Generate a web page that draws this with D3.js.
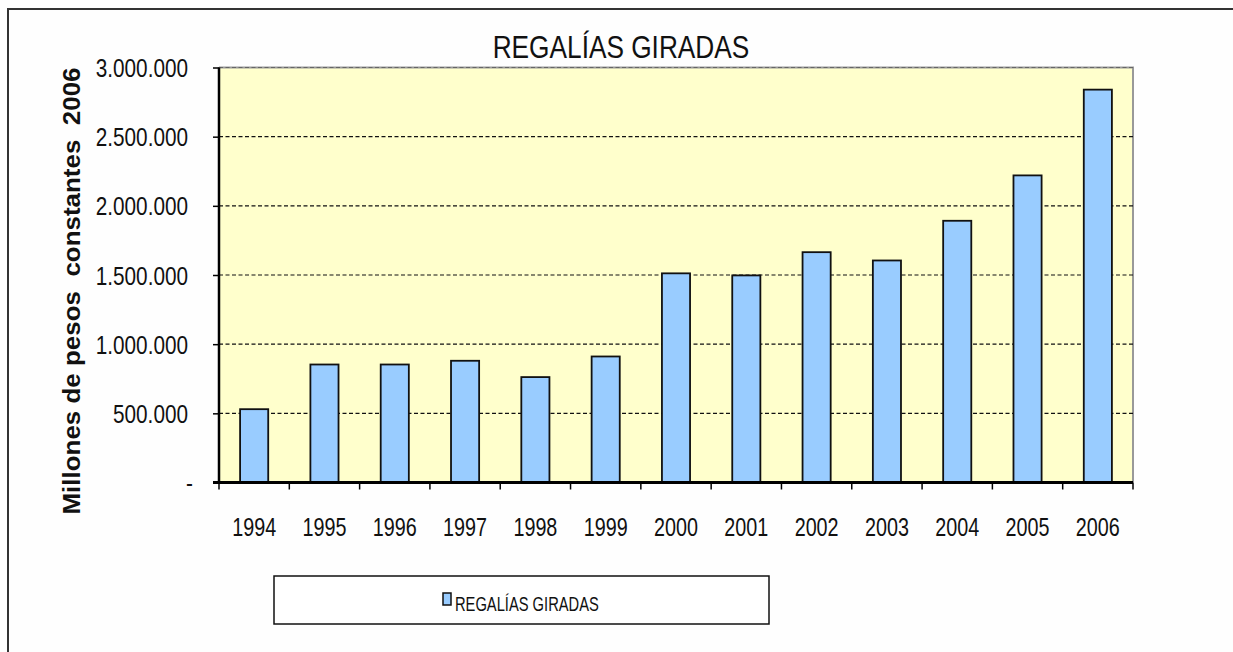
<!DOCTYPE html>
<meta charset="utf-8">
<style>
body { margin: 0; background: #fefefe; }
svg { display: block; }
.axis text { font-family: "Liberation Sans", Arial, sans-serif; font-size: 25px; fill: #111; }
.axis path { display: none; }
.axis line { stroke: #000; stroke-width: 1.5; }
.grid line { stroke: #111; stroke-width: 1.2; stroke-dasharray: 4,2.5; }
</style>
<svg width="1233" height="652"></svg>
<script src="https://d3js.org/d3.v7.min.js"></script>
<script>

// data
var years = ["1994", "1995", "1996", "1997", "1998", "1999", "2000",
             "2001", "2002", "2003", "2004", "2005", "2006"];
var regalias = [530000, 853000, 853000, 880000, 762000, 911000, 1512000,
                1497000, 1665000, 1605000, 1892000, 2220000, 2840000];
var yTicks = [0, 500000, 1000000, 1500000, 2000000, 2500000, 3000000];
var title = "REGALÍAS GIRADAS";
var seriesName = "REGALÍAS GIRADAS";
var yTitle = "Millones de pesos  constantes  2006";

var svg = d3.select("svg"),
  margin = {top: 67.5, right: 100, bottom: 169.5, left: 219},
  width = svg.attr("width") - margin.left - margin.right,
  height = svg.attr("height") - margin.top - margin.bottom;

var sans = '"Liberation Sans", Arial, sans-serif';

// the source uses a narrow face; squeeze the text horizontally
function squeeze(sel, k) {
  sel.each(function() {
    var w = this.getComputedTextLength();
    d3.select(this)
      .attr("textLength", w * k)
      .attr("lengthAdjust", "spacingAndGlyphs");
  });
}

// outer frame, cut off at right and bottom like the source
svg.append("rect")
  .attr("x", 8).attr("y", 9)
  .attr("width", 1300).attr("height", 700)
  .attr("fill", "none")
  .attr("stroke", "#333")
  .attr("stroke-width", 2);

var locale = d3.formatLocale({decimal: ",", thousands: ".", grouping: [3], currency: ["$", ""]});
var fmt = locale.format(",d");

var x = d3.scaleBand().domain(years).range([0, width])
  .paddingInner(0.6).paddingOuter(0.3);
var y = d3.scaleLinear().domain([0, 3000000]).range([height, 0]);

var g = svg.append("g")
  .attr("transform", "translate(" + margin.left + "," + margin.top + ")");

// plot background
g.append("rect")
  .attr("width", width).attr("height", height)
  .attr("fill", "#ffffcc");

// right and top border of plot area
g.append("path")
  .attr("d", "M0,0H" + width + "V" + height)
  .attr("fill", "none")
  .attr("stroke", "#999")
  .attr("stroke-width", 2);

// dashed grid
g.append("g")
  .attr("class", "grid")
  .selectAll("line")
  .data(yTicks.filter(function(d) { return d > 0; }))
  .enter().append("line")
    .attr("x1", 0).attr("x2", width)
    .attr("y1", function(d) { return y(d); })
    .attr("y2", function(d) { return y(d); })
    .style("stroke", function(d) { return d == 3000000 ? "#666" : null; });

// bars
g.append("g")
  .selectAll("rect")
  .data(regalias)
  .enter().append("rect")
    .attr("x", function(d, i) { return x(years[i]); })
    .attr("y", function(d) { return y(d); })
    .attr("width", x.bandwidth())
    .attr("height", function(d) { return height - y(d); })
    .attr("fill", "#99ccff")
    .attr("stroke", "#111")
    .attr("stroke-width", 1.8);

// y axis
var yAxis = g.append("g")
  .attr("class", "axis")
  .call(d3.axisLeft(y).tickValues(yTicks).tickSize(6).tickPadding(25)
    .tickFormat(function(d) { return d == 0 ? "-" : fmt(d); }));
yAxis.selectAll(".tick text")
  .attr("dy", "0.36em")
  .attr("dx", function(d) { return d == 0 ? 5 : 0; })
  .call(squeeze, 0.83);

// x axis: ticks on category boundaries, labels centred
var xAxis = g.append("g")
  .attr("class", "axis")
  .attr("transform", "translate(0," + height + ")");
var step = x.step();
xAxis.selectAll("line")
  .data(d3.range(years.length + 1))
  .enter().append("line")
    .attr("x1", function(i) { return i * step; })
    .attr("x2", function(i) { return i * step; })
    .attr("y1", 0).attr("y2", 7);
xAxis.selectAll("text")
  .data(years)
  .enter().append("text")
    .attr("x", function(d) { return x(d) + x.bandwidth() / 2; })
    .attr("y", 53)
    .attr("text-anchor", "middle")
    .text(function(d) { return d; })
    .call(squeeze, 0.79);

// axis lines
g.append("line")
  .attr("x1", 0).attr("x2", 0).attr("y1", 0).attr("y2", height)
  .attr("stroke", "#000").attr("stroke-width", 2.5);
g.append("line")
  .attr("x1", -6).attr("x2", width).attr("y1", height).attr("y2", height)
  .attr("stroke", "#000").attr("stroke-width", 3);

// title
svg.append("text")
  .attr("x", 621).attr("y", 58)
  .attr("text-anchor", "middle")
  .style("font-family", sans)
  .style("font-size", "32px")
  .style("fill", "#111")
  .text(title)
  .call(squeeze, 0.82);

// y axis title
svg.append("text")
  .attr("transform", "translate(80,291) rotate(-90)")
  .attr("text-anchor", "middle")
  .style("font-family", sans)
  .style("font-weight", "bold")
  .style("font-size", "24px")
  .style("white-space", "pre")
  .style("fill", "#111")
  .text(yTitle)
  .attr("textLength", 447)
  .attr("lengthAdjust", "spacingAndGlyphs");

// legend
var legend = svg.append("g");
legend.append("rect")
  .attr("x", 274).attr("y", 576)
  .attr("width", 495).attr("height", 48)
  .attr("fill", "#fff")
  .attr("stroke", "#111")
  .attr("stroke-width", 1.5);
legend.append("rect")
  .attr("x", 443).attr("y", 593)
  .attr("width", 8).attr("height", 12)
  .attr("fill", "#99ccff")
  .attr("stroke", "#111")
  .attr("stroke-width", 1.5);
legend.append("text")
  .attr("x", 455).attr("y", 611)
  .style("font-family", sans)
  .style("font-size", "21px")
  .style("fill", "#111")
  .text(seriesName)
  .call(squeeze, 0.7);

</script>
